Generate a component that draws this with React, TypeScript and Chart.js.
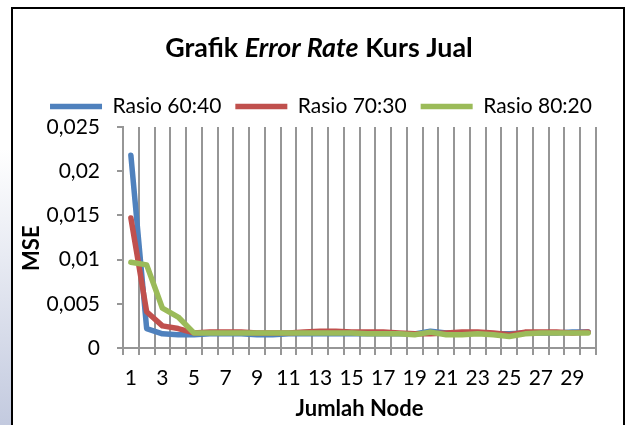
import React, { useEffect, useRef } from 'react';
import { Chart, registerables } from 'chart.js';

Chart.register(...registerables);

const nodeLabels = ['1', '2', '3', '4', '5', '6', '7', '8', '9', '10', '11', '12', '13', '14', '15', '16', '17', '18', '19', '20', '21', '22', '23', '24', '25', '26', '27', '28', '29', '30'];

const rasio6040 = [0.0218, 0.0022, 0.0016, 0.0015, 0.0015, 0.0016, 0.0016, 0.0016, 0.0015, 0.0015, 0.0016, 0.0016, 0.0016, 0.0016, 0.0016, 0.0016, 0.0016, 0.0016, 0.0016, 0.0019, 0.0017, 0.0017, 0.0017, 0.0016, 0.0016, 0.0017, 0.0017, 0.0017, 0.0018, 0.0018];
const rasio7030 = [0.0147, 0.0041, 0.0025, 0.0022, 0.0017, 0.0018, 0.0018, 0.0018, 0.0017, 0.0017, 0.0017, 0.0018, 0.0019, 0.0019, 0.0018, 0.0018, 0.0018, 0.0017, 0.0016, 0.0016, 0.0017, 0.0018, 0.0018, 0.0017, 0.0015, 0.0018, 0.0018, 0.0018, 0.0017, 0.0018];
const rasio8020 = [0.0097, 0.0094, 0.0045, 0.0035, 0.0017, 0.0017, 0.0017, 0.0017, 0.0017, 0.0017, 0.0017, 0.0017, 0.0017, 0.0017, 0.0017, 0.0016, 0.0016, 0.0016, 0.0015, 0.0018, 0.0015, 0.0015, 0.0016, 0.0015, 0.0013, 0.0016, 0.0017, 0.0017, 0.0017, 0.0017];

const seriesNames = ['Rasio 60:40', 'Rasio 70:30', 'Rasio 80:20'];
const seriesColors = ['#4F81BD', '#C0504D', '#9BBB59'];

const yMin = 0;
const yMax = 0.025;
const yStep = 0.005;

const titleParts = [
  { text: 'Grafik ', italic: false },
  { text: 'Error Rate', italic: true },
  { text: ' Kurs Jual', italic: false },
];

const FONT = 'Lato';
const GRID = '#969696';

const titlePlugin = {
  id: 'mixedTitle',
  afterDraw(chart: any) {
    const ctx = chart.ctx;
    ctx.save();
    ctx.fillStyle = '#000';
    ctx.textBaseline = 'alphabetic';
    ctx.textAlign = 'left';
    const size = 26.8;
    const fontFor = (italic: boolean) => `${italic ? 'italic ' : ''}bold ${size}px ${FONT}`;
    let total = 0;
    const widths = titleParts.map((p) => {
      ctx.font = fontFor(p.italic);
      const w = ctx.measureText(p.text).width;
      total += w;
      return w;
    });
    let x = 319 - total / 2;
    titleParts.forEach((p, i) => {
      ctx.font = fontFor(p.italic);
      ctx.fillText(p.text, x, 57);
      x += widths[i];
    });
    ctx.restore();
  },
};

export default function App() {
  const canvasRef = useRef<HTMLCanvasElement | null>(null);

  useEffect(() => {
    const canvas = canvasRef.current;
    if (!canvas) return;
    const seriesData = [rasio6040, rasio7030, rasio8020];
    const chart = new Chart(canvas, {
      type: 'line',
      data: {
        labels: nodeLabels,
        datasets: seriesData.map((d, i) => ({
          label: seriesNames[i],
          data: d,
          borderColor: seriesColors[i],
          backgroundColor: seriesColors[i],
          borderWidth: 5.5,
          borderCapStyle: 'round',
          borderJoinStyle: 'round',
          tension: 0,
          fill: false,
          pointRadius: 0,
          pointHoverRadius: 0,
          order: 3 - i,
        })),
      },
      options: {
        responsive: false,
        animation: false,
        layout: { padding: { top: 82, left: 14, right: 0, bottom: 0 } },
        plugins: {
          legend: {
            position: 'top',
            labels: {
              usePointStyle: true,
              pointStyle: 'line',
              pointStyleWidth: 52,
              padding: 14,
              color: '#000',
              font: { family: FONT, size: 21 },
              sort: (a: any, b: any) => a.datasetIndex - b.datasetIndex,
            },
          },
          title: { display: false },
          tooltip: { enabled: false },
        },
        scales: {
          x: {
            type: 'category',
            offset: true,
            grid: { offset: true, color: GRID, lineWidth: 2, tickLength: 7, drawTicks: true },
            border: { color: GRID, width: 2 },
            ticks: {
              autoSkip: false,
              maxRotation: 0,
              minRotation: 0,
              color: '#000',
              font: { family: FONT, size: 21 },
              padding: 11,
              callback: (_v: any, i: number) => (i % 2 === 0 ? nodeLabels[i] : ''),
            },
            title: {
              display: true,
              text: 'Jumlah Node',
              color: '#000',
              font: { family: FONT, size: 22, weight: 'bold' },
              padding: { top: 0, bottom: 3 },
            },
            afterFit: (s: any) => {
              s.height = 77;
            },
          },
          y: {
            min: yMin,
            max: yMax,
            ticks: {
              stepSize: yStep,
              color: '#000',
              font: { family: FONT, size: 21 },
              padding: 17,
              callback: (v: any) => String(Number(Number(v).toFixed(4))).replace('.', ','),
            },
            grid: { drawOnChartArea: false, drawTicks: true, tickLength: 6, color: GRID, lineWidth: 2 },
            border: { color: GRID, width: 2 },
            title: {
              display: true,
              text: 'MSE    ',
              color: '#000',
              font: { family: FONT, size: 22, weight: 'bold' },
              padding: { top: 5, bottom: 0 },
            },
            afterFit: (s: any) => {
              s.width = 109;
            },
          },
          yRight: {
            position: 'right',
            display: true,
            grid: { display: false },
            ticks: { display: false },
            border: { display: false },
            afterFit: (s: any) => {
              s.width = 32;
            },
          },
        },
      } as any,
      plugins: [titlePlugin],
    });
    return () => chart.destroy();
  }, []);

  return (
    <div style={{ position: 'fixed', left: 0, top: 0, width: 628, height: 425, background: '#fff', overflow: 'hidden' }}>
      <div
        style={{
          position: 'absolute',
          left: 0,
          top: 0,
          width: 11,
          height: 425,
          background: 'linear-gradient(to bottom, #ffffff 0%, #ffffff 35%, #dfe3ee 70%, #c3cadf 100%)',
        }}
      />
      <div
        style={{
          position: 'absolute',
          left: 11,
          top: 7,
          width: 610,
          height: 440,
          border: '2px solid #000',
        }}
      />
      <canvas ref={canvasRef} width={628} height={425} style={{ position: 'absolute', left: 0, top: 0, width: 628, height: 425 }} />
    </div>
  );
}
